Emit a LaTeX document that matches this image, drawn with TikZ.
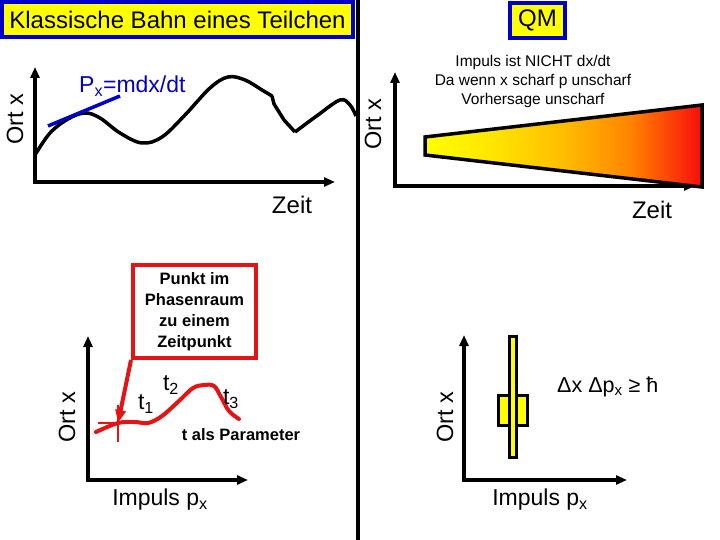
\documentclass[tikz,border=0pt]{standalone}
\usepackage{fontspec}
\setmainfont{Liberation Sans}
\usetikzlibrary{arrows.meta}
\definecolor{tblue}{RGB}{0,0,200}
\definecolor{tred}{RGB}{228,20,20}
\definecolor{tyellow}{RGB}{255,255,0}
\pgfdeclarehorizontalshading{trapshade}{100bp}{%
  rgb(0bp)=(1,1,0); rgb(25bp)=(1,1,0); rgb(37bp)=(1,0.9,0); rgb(50bp)=(1,0.74,0);
  rgb(62bp)=(1,0.52,0); rgb(75bp)=(0.97,0.05,0.05); rgb(100bp)=(0.97,0.05,0.05)}
\begin{document}
\begin{tikzpicture}[x=1pt,y=-1pt,
  axis/.style={line width=3.5pt, line join=miter, {Triangle[length=11pt,width=9pt]}-{Triangle[length=11pt,width=9pt]}},
  big/.style={font=\fontsize{24}{28}\selectfont, inner sep=0pt},
  ortlbl/.style={font=\fontsize{23.5}{26}\selectfont, inner sep=0pt, rotate=90},
  headbox/.style={draw=tblue, fill=tyellow, line width=4pt, inner sep=0pt, font=\fontsize{24}{28}\selectfont},
  smalltxt/.style={font=\fontsize{15.5}{19}\selectfont, align=center, inner sep=0pt},
  boldtxt/.style={font=\bfseries\fontsize{16.5}{21}\selectfont, align=center, inner sep=0pt},
  tlbl/.style={font=\fontsize{23}{26}\selectfont, inner sep=0pt},
  bar/.style={draw=black, fill=tyellow, line width=3pt}
]
\useasboundingbox (0,0) rectangle (720,540);
\fill[white] (0,0) rectangle (720,540);

% divider
\draw[line width=4pt] (358,0) -- (358,540);

% header boxes
\node[headbox, minimum width=351pt, minimum height=35pt] (title) at (177.5,19.5) {Klassische Bahn eines Teilchen};
\node[headbox, minimum width=55pt, minimum height=35pt] (qm) at (537.5,20.5) {QM};

% ---------- top left: classical trajectory ----------
\draw[axis] (35,67) -- (35,182) -- (335,182);
\node[ortlbl] (ort1) at (15,119) {Ort x};
\node[big] (zeit1) at (292,205) {Zeit};
\draw[line width=3.5pt, line cap=round] plot[smooth, tension=0.6] coordinates {
  (35,155) (50,133) (68,119) (85,113) (100,118) (120,133) (142,143) (162,137)
  (185,115) (210,88) (228,77) (245,80) (262,90) (272,96)};
\draw[line width=3.5pt, line join=round] (272,96) -- (274,104) -- (284,120) -- (295,132);
\draw[line width=3.5pt] plot[smooth, tension=0.6] coordinates {
  (295,132) (318,115) (340,100) (350,105) (356,116)};
\draw[tblue, line width=3.5pt] (48,126) -- (120,96);
\node[big, text=tblue, font=\fontsize{23}{26}\selectfont, anchor=west] (px) at (79,86) {P\textsubscript{x}=mdx/dt};

% ---------- top right: QM smeared ----------
\draw[axis] (395,72) -- (395,186) -- (695,186);
\node[ortlbl] (ort2) at (373,124) {Ort x};
\node[big] (zeit2) at (652,210) {Zeit};
\shade[shading=trapshade] (425,137) -- (702,105) -- (702,187) -- (425,155) -- cycle;
\draw[line width=3.5pt, line join=miter] (425,137) -- (702,105) -- (702,187) -- (425,155) -- cycle;
\node[smalltxt] (qmtxt) at (533,81) {Impuls ist NICHT dx/dt\\Da wenn x scharf p unscharf\\Vorhersage unscharf};

% ---------- bottom left: phase space ----------
\draw[axis] (88,336) -- (88,480) -- (248,480);
\node[ortlbl] (ort3) at (67,417) {Ort x};
\node[big, font=\fontsize{23}{26}\selectfont] (imp1) at (160,500) {Impuls p\textsubscript{x}};
\node[draw=tred, line width=4pt, minimum width=123pt, minimum height=93pt, boldtxt] (pbox) at (194.5,311.5) {Punkt im\\Phasenraum\\zu einem\\Zeitpunkt};
\coordinate (pt) at (118,423);
\draw[tred, line width=4pt, line cap=round] plot[smooth, tension=0.6] coordinates {
  (96,432) (118,423) (135,422) (148,423) (162,416) (180,400) (193,388) (204,385) (214,386)
  (221,397) (229,411) (239,419)};
\draw[tred, line width=2pt] (118,405) -- (118,442);
\draw[tred, line width=2pt] (98,423) -- (138,423);
\draw[tred, line width=4pt, -{Triangle[length=13pt,width=10pt]}] (pbox.south west) -- (pt);
\node[tlbl] (t1) at (146,404) {t\textsubscript{1}};
\node[tlbl] (t2) at (171,385) {t\textsubscript{2}};
\node[tlbl] (t3) at (231,399) {t\textsubscript{3}};
\node[boldtxt] (tpar) at (241,435) {t als Parameter};

% ---------- bottom right: uncertainty ----------
\draw[axis] (464,335) -- (464,480) -- (627,480);
\node[ortlbl] (ort4) at (445,417) {Ort x};
\node[big, font=\fontsize{23}{26}\selectfont] (imp2) at (540,500) {Impuls p\textsubscript{x}};
\node[bar, minimum width=29pt, minimum height=30pt, inner sep=0pt] (wide) at (513,410.5) {};
\node[bar, minimum width=7pt, minimum height=121pt, inner sep=0pt] (tall) at (513,397) {};
\node[font=\fontsize{21.5}{24}\selectfont, inner sep=0pt, anchor=west] (unc) at (557,387) {Δx Δp\textsubscript{x} ≥ ħ};
\end{tikzpicture}
\end{document}
